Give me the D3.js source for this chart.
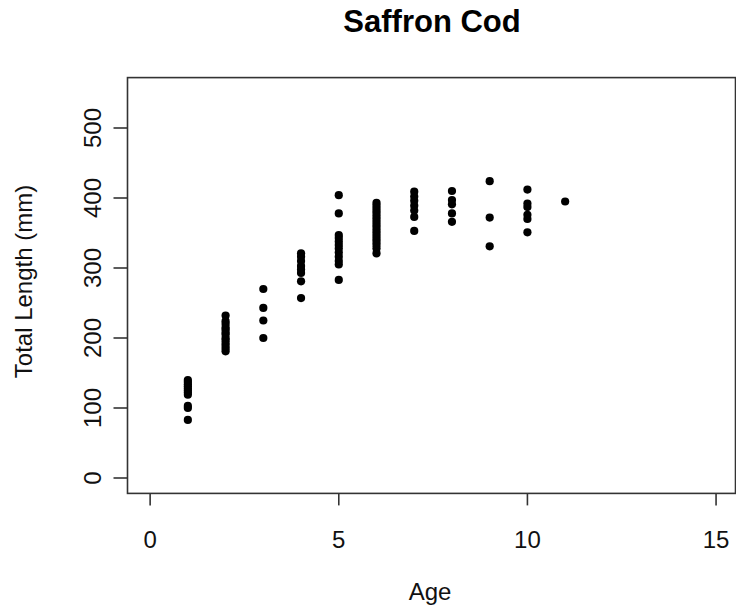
<!DOCTYPE html>
<html><head><meta charset="utf-8">
<script src="https://cdn.jsdelivr.net/npm/d3@7"></script>
<style>body{margin:0;background:#fff}svg{display:block}text{font-family:"Liberation Sans",Arial,sans-serif;fill:#111}</style>
</head><body><svg id="c" width="736" height="610"></svg>
<script>
// Data: total length (mm) by age
const ages = [1,2,3,4,5,6,7,8,9,10,11];
const age1 = [140,137,134,131,128,125,122,119,103,100,83];
const age2 = [232,224,220,215,212,208,205,200,197,193,189,185,181];
const age3 = [270,243,225,200];
const age4 = [321,316,310,303,298,293,281,257];
const age5 = [404,378,347,343,338,333,328,322,316,310,305,283];
const age6 = [393,389,385,381,377,373,369,365,361,357,353,349,345,341,337,333,328,321];
const age7 = [409,402,396,389,382,373,353];
const age8 = [410,397,391,378,366];
const age9 = [424,372,331];
const age10 = [412,392,387,376,370,351];
const age11 = [395];
const lengthsByAge = [age1,age2,age3,age4,age5,age6,age7,age8,age9,age10,age11];
const xTicks = [0,5,10,15];
const yTicks = [0,100,200,300,400,500];
const title = "Saffron Cod", xLabel = "Age", yLabel = "Total Length (mm)";

const points = [];
ages.forEach((a,i)=>lengthsByAge[i].forEach(v=>points.push({age:a,len:v})));

const svg = d3.select("#c");
const x = d3.scaleLinear().domain([-0.6,15.6]).range([127.5,738.7]);
const y = d3.scaleLinear().domain([-22,572]).range([493.4,77.6]);
const L = x(-0.6), R = 735.5, T = y(572), B = y(-22);

// box
svg.append("rect").attr("x",L).attr("y",T).attr("width",R-L).attr("height",B-T)
  .attr("fill","none").attr("stroke","#333").attr("stroke-width",1.6);

// x axis
const xa = svg.append("g");
xa.selectAll("line").data(xTicks).join("line")
  .attr("x1",d=>x(d)).attr("x2",d=>x(d)).attr("y1",B).attr("y2",B+12)
  .attr("stroke","#333").attr("stroke-width",1.6);
xa.selectAll("text").data(xTicks).join("text")
  .attr("x",d=>x(d)).attr("y",548).attr("text-anchor","middle")
  .attr("font-size",24).text(d=>d);

// y axis
const ya = svg.append("g");
ya.selectAll("line").data(yTicks).join("line")
  .attr("y1",d=>y(d)).attr("y2",d=>y(d)).attr("x1",L).attr("x2",L-14)
  .attr("stroke","#333").attr("stroke-width",1.6);
ya.selectAll("text").data(yTicks).join("text")
  .attr("transform",d=>`translate(101,${y(d)}) rotate(-90)`)
  .attr("text-anchor","middle").attr("font-size",24).text(d=>d);

// points
svg.append("g").selectAll("circle").data(points).join("circle")
  .attr("cx",d=>x(d.age)).attr("cy",d=>y(d.len)).attr("r",4.1).attr("fill","#000");

// labels
svg.append("text").attr("x",432).attr("y",32).attr("text-anchor","middle")
  .attr("font-size",31).attr("font-weight","bold").style("fill","#000").text(title);
svg.append("text").attr("x",430).attr("y",600).attr("text-anchor","middle")
  .attr("font-size",24).text(xLabel);
svg.append("text").attr("transform",`translate(32,${(T+B)/2 - 4}) rotate(-90)`)
  .attr("text-anchor","middle").attr("font-size",24).text(yLabel);
</script></body></html>
